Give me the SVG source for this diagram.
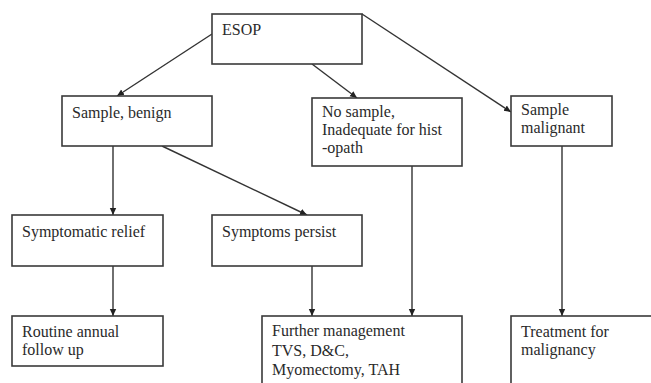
<svg xmlns="http://www.w3.org/2000/svg" width="651" height="383" viewBox="0 0 651 383">
<style>
.box{fill:#fff;stroke:#3a3a3a;stroke-width:1.6}
.t{font-family:"Liberation Serif","Times New Roman",serif;font-size:16px;fill:#2a2a2a}
.c{stroke:#333;stroke-width:1.4;fill:none;marker-end:url(#ah)}
</style>
<defs>
<marker id="ah" markerWidth="8" markerHeight="8" refX="7" refY="4" orient="auto" markerUnits="userSpaceOnUse">
<path d="M0,0.8 L7,4 L0,7.2 Z" fill="#222"/>
</marker>
</defs>
<rect width="651" height="383" fill="#fff"/>
<g id="connectors">
<line class="c" x1="212" y1="34" x2="117" y2="96"/>
<line class="c" x1="312" y1="64" x2="357" y2="98"/>
<line class="c" x1="362" y1="14" x2="511" y2="112"/>
<line class="c" x1="113" y1="146" x2="113" y2="215"/>
<line class="c" x1="162" y1="146" x2="307" y2="215"/>
<line class="c" x1="113" y1="266" x2="113" y2="316"/>
<line class="c" x1="312" y1="266" x2="312" y2="316"/>
<line class="c" x1="412" y1="166" x2="412" y2="316"/>
<line class="c" x1="562" y1="146" x2="562" y2="316"/>
</g>
<g id="esop"><rect class="box" x="212" y="14" width="150" height="50"/><text class="t" x="222" y="35">ESOP</text></g>
<g id="benign"><rect class="box" x="62" y="96" width="150" height="50"/><text class="t" x="72" y="118">Sample, benign</text></g>
<g id="nosample"><rect class="box" x="312" y="98" width="150" height="68"/><text class="t" x="322" y="117">No sample,</text><text class="t" x="322" y="135">Inadequate for hist</text><text class="t" x="322" y="153">-opath</text></g>
<g id="malignant"><rect class="box" x="511" y="96" width="101" height="50"/><text class="t" x="521" y="115">Sample</text><text class="t" x="521" y="133">malignant</text></g>
<g id="relief"><rect class="box" x="12" y="215" width="151" height="51"/><text class="t" x="22" y="237">Symptomatic relief</text></g>
<g id="persist"><rect class="box" x="212" y="215" width="150" height="51"/><text class="t" x="222" y="237">Symptoms persist</text></g>
<g id="routine"><rect class="box" x="12" y="316" width="151" height="50"/><text class="t" x="22" y="337">Routine annual</text><text class="t" x="22" y="355">follow up</text></g>
<g id="further"><rect class="box" x="262" y="316" width="200" height="80"/><text class="t" x="272" y="336">Further management</text><text class="t" x="272" y="356">TVS, D&amp;C,</text><text class="t" x="272" y="375">Myomectomy, TAH</text></g>
<g id="treatment"><rect class="box" x="511" y="316" width="160" height="80"/><text class="t" x="521" y="337">Treatment for</text><text class="t" x="521" y="355">malignancy</text></g>
</svg>
